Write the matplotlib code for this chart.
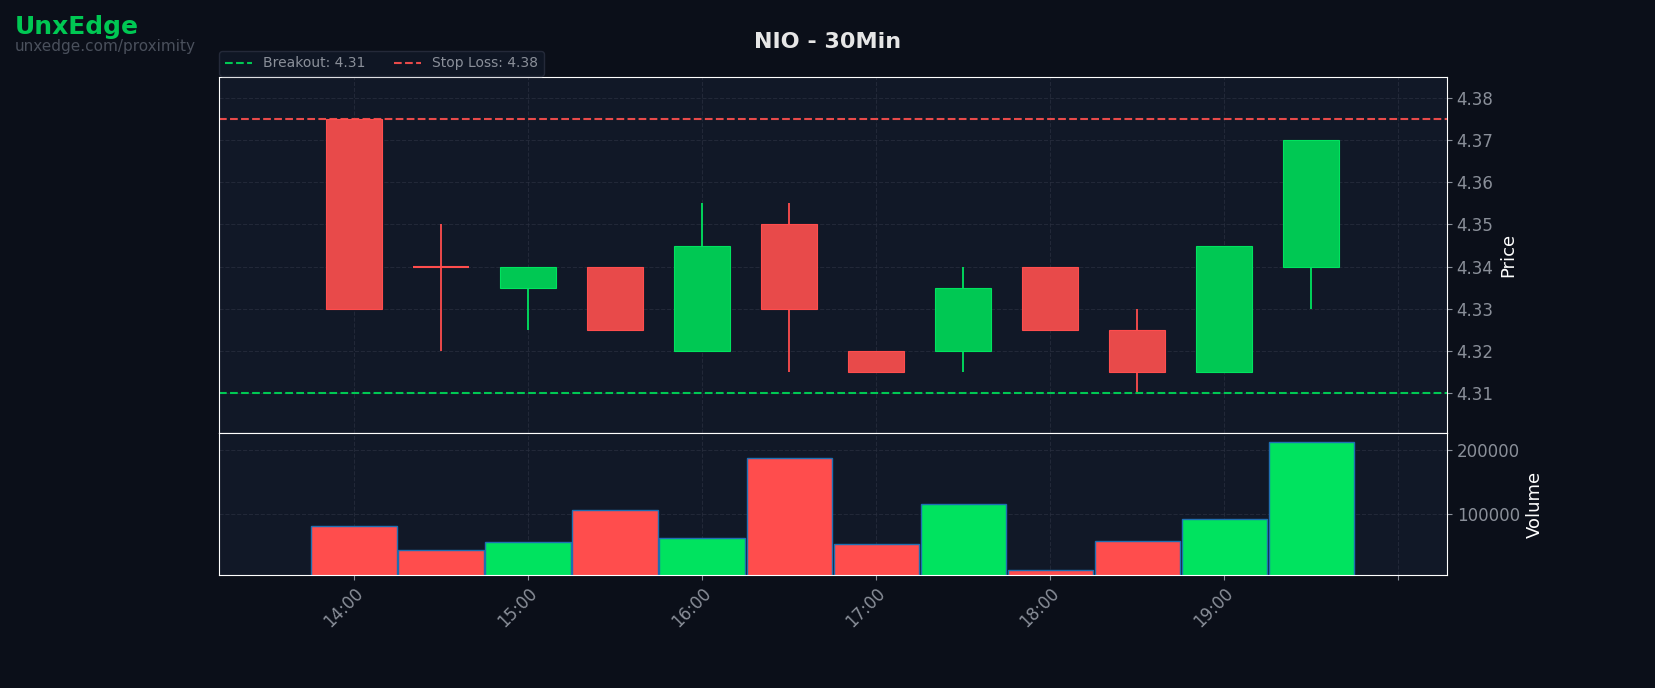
import matplotlib
matplotlib.use("Agg")
import matplotlib.pyplot as plt
from matplotlib.lines import Line2D

# time in hours of day
times = [14.0, 14.5, 15.0, 15.5, 16.0, 16.5, 17.0, 17.5, 18.0, 18.5, 19.0, 19.5]
opens = [4.375, 4.34, 4.335, 4.34, 4.32, 4.35, 4.32, 4.32, 4.34, 4.325, 4.315, 4.34]
closes = [4.33, 4.34, 4.34, 4.325, 4.345, 4.33, 4.315, 4.335, 4.325, 4.315, 4.345, 4.37]
highs = [4.375, 4.35, 4.34, 4.34, 4.355, 4.355, 4.32, 4.34, 4.34, 4.33, 4.345, 4.37]
lows = [4.33, 4.32, 4.325, 4.325, 4.32, 4.315, 4.315, 4.315, 4.325, 4.31, 4.315, 4.33]
volumes = [80000, 42000, 56000, 105000, 61000, 187000, 52000, 115000, 11000, 57000, 92000, 213000]
breakout = 4.31
stop_loss = 4.375
tick_hours = [14, 15, 16, 17, 18, 19, 20]
tick_labels = ["14:00", "15:00", "16:00", "17:00", "18:00", "19:00", ""]

BG = "#0b0f19"
AX_BG = "#111827"
GREEN = "#00c853"
RED = "#e84a4a"
TXT = "#8a8f99"

fig = plt.figure(figsize=(16.55, 6.88), dpi=100, facecolor=BG)
W, H = 1655, 688
ax = fig.add_axes([219 / W, 1 - 433 / H, (1447 - 219) / W, (433 - 77) / H])
axv = fig.add_axes([219 / W, 1 - 575 / H, (1447 - 219) / W, (575 - 433) / H], sharex=ax)

for a in (ax, axv):
    a.set_facecolor(AX_BG)
    a.set_axisbelow(True)
    for s in a.spines.values():
        s.set_color("white")
    a.grid(True, color="#2a3040", linestyle="--", linewidth=0.8, alpha=0.7)
    a.yaxis.tick_right()
    a.yaxis.set_label_position("right")
    a.tick_params(colors=TXT, labelsize=12)

cw = 0.32
for t, o, c, h, l in zip(times, opens, closes, highs, lows):
    col = GREEN if c > o else RED
    edge = "#00e35f" if c > o else "#ff4d4d"
    ax.vlines(t, l, h, color=edge, linewidth=1.3, zorder=2)
    if o == c:
        ax.hlines(o, t - cw / 2, t + cw / 2, color=edge, linewidth=1.5, zorder=3)
    else:
        ax.bar(t, abs(c - o), bottom=min(o, c), width=cw, color=col,
               edgecolor=edge, linewidth=0.8, zorder=3)

ax.axhline(breakout, color=GREEN, linestyle="--", linewidth=1.5)
ax.axhline(stop_loss, color=RED, linestyle="--", linewidth=1.5)
ax.set_ylim(4.3005, 4.385)
ax.set_yticks([4.31, 4.32, 4.33, 4.34, 4.35, 4.36, 4.37, 4.38])
ax.set_ylabel("Price", color="white", fontsize=13)
ax.tick_params(axis="x", labelbottom=False, length=0)

vcols = ["#00e35f" if c > o else "#ff4d4d" for o, c in zip(opens, closes)]
axv.bar(times, volumes, width=0.49, color=vcols, edgecolor="#1f6fb2", linewidth=1)
axv.set_ylim(3300, 227000)
axv.set_yticks([100000, 200000])
axv.set_ylabel("Volume", color="white", fontsize=13)
axv.set_xlim(14 - 0.776, 20.28)
axv.set_xticks(tick_hours)
axv.set_xticklabels(tick_labels, rotation=45, ha="right", rotation_mode="anchor")

handles = [Line2D([], [], color=GREEN, linestyle="--", label=f"Breakout: {breakout:.2f}"),
           Line2D([], [], color=RED, linestyle="--", label=f"Stop Loss: {stop_loss:.2f}")]
fig.legend(handles=handles, loc="lower left", bbox_to_anchor=(219 / W, 1 - 76 / H),
           ncol=2, fontsize=10, frameon=True, facecolor=AX_BG, edgecolor="#2a3040",
           labelcolor=TXT, borderaxespad=0)

fig.text(0.5, 1 - 42 / H, "NIO - 30Min", ha="center", va="center", color="#e6e6e6",
         fontsize=16, fontweight="bold")
fig.text(15 / W, 1 - 27 / H, "UnxEdge", ha="left", va="center", color=GREEN,
         fontsize=18, fontweight="bold")
fig.text(15 / W, 1 - 46 / H, "unxedge.com/proximity", ha="left", va="center",
         color="#4a505c", fontsize=11)

fig.savefig("out.png", facecolor=BG)
